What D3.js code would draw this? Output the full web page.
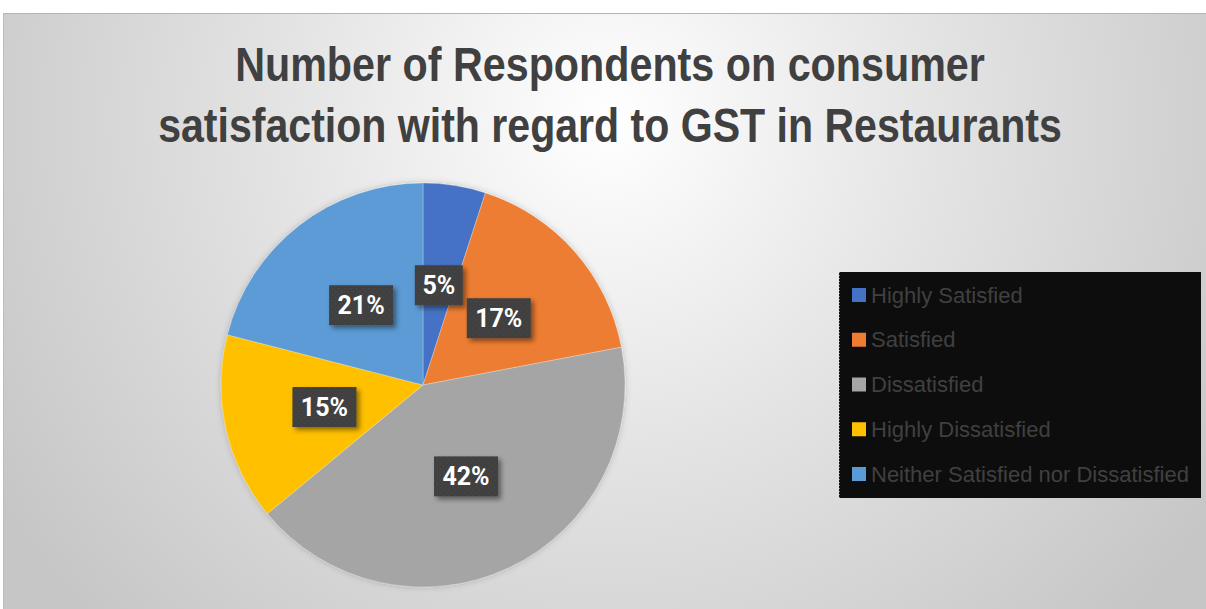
<!DOCTYPE html>
<html>
<head>
<meta charset="utf-8">
<script src="https://cdn.jsdelivr.net/npm/d3@7"></script>
<style>
  html, body { margin: 0; padding: 0; background: #fff; }
  svg { display: block; }
</style>
</head>
<body>
<svg id="svg1" width="1206" height="609"></svg>
<script>
var width = 1206;
var height = 609;

// data
var categories = ['Highly Satisfied', 'Satisfied', 'Dissatisfied', 'Highly Dissatisfied', 'Neither Satisfied nor Dissatisfied'];
var values = [5, 17, 42, 15, 21];
var colors = ['#4472C4', '#ED7D31', '#A5A5A5', '#FFC000', '#5B9BD5'];
var titleLines = ['Number of Respondents on consumer', 'satisfaction with regard to GST in Restaurants'];

var svg = d3.select('svg');
var defs = svg.append('defs');

// background gradient
var bg = defs.append('radialGradient')
    .attr('id', 'bgGrad')
    .attr('gradientUnits', 'userSpaceOnUse')
    .attr('cx', 610).attr('cy', 120).attr('r', 720);
bg.append('stop').attr('offset', '0%').attr('stop-color', '#ffffff');
bg.append('stop').attr('offset', '45%').attr('stop-color', '#e4e4e4');
bg.append('stop').attr('offset', '100%').attr('stop-color', '#c6c6c6');

// dotted texture for label boxes
var pat = defs.append('pattern')
    .attr('id', 'dots')
    .attr('width', 6).attr('height', 6)
    .attr('patternUnits', 'userSpaceOnUse');
pat.append('rect').attr('width', 6).attr('height', 6).attr('fill', '#404040');
pat.append('circle').attr('cx', 1.5).attr('cy', 1.5).attr('r', 0.8).attr('fill', '#4a4a4a');
pat.append('circle').attr('cx', 4.5).attr('cy', 4.5).attr('r', 0.8).attr('fill', '#4a4a4a');

var shadow = defs.append('filter').attr('id', 'shadow')
    .attr('x', '-20%').attr('y', '-20%').attr('width', '160%').attr('height', '160%');
shadow.append('feDropShadow')
    .attr('dx', 3).attr('dy', 3).attr('stdDeviation', 2.5)
    .attr('flood-color', '#000').attr('flood-opacity', 0.45);

var pieShadow = defs.append('filter').attr('id', 'pieShadow')
    .attr('x', '-10%').attr('y', '-10%').attr('width', '120%').attr('height', '120%');
pieShadow.append('feDropShadow')
    .attr('dx', 0).attr('dy', 0).attr('stdDeviation', 3)
    .attr('flood-color', '#000').attr('flood-opacity', 0.2);

// chart area
svg.append('rect')
    .attr('x', 3).attr('y', 13)
    .attr('width', width - 3).attr('height', height - 13)
    .attr('fill', 'url(#bgGrad)');
svg.append('line')
    .attr('x1', 3).attr('x2', width).attr('y1', 13.5).attr('y2', 13.5)
    .attr('stroke', '#b4b4b4').attr('stroke-width', 1);
svg.append('line')
    .attr('x1', 3.5).attr('x2', 3.5).attr('y1', 13).attr('y2', height)
    .attr('stroke', '#bdbdbd').attr('stroke-width', 1);

// title - condensed by a horizontal scale so it matches the narrow reference font
var titleWidths = [750, 904];
svg.append('g').selectAll('g')
    .data(titleLines)
    .enter()
    .append('g')
    .each(function(d, i) {
        var g = d3.select(this);
        var t = g.append('text')
            .attr('x', 0)
            .attr('y', 0)
            .attr('text-anchor', 'middle')
            .attr('font-family', 'Liberation Sans Narrow, Arial Narrow, sans-serif')
            .attr('font-weight', 'bold')
            .attr('font-size', 48)
            .attr('fill', '#404040')
            .text(d);
        var natural = t.node().getComputedTextLength();
        var k = Math.min(1, titleWidths[i] / natural);
        g.attr('transform', 'translate(610,' + (81 + i * 61) + ') scale(' + k + ',1)');
    });

// pie
var cx = 423, cy = 385, radius = 202;

var pie = d3.pie().sort(null).value(function(d) { return d; });
var arc = d3.arc().innerRadius(0).outerRadius(radius);
var labelArc = d3.arc().innerRadius(radius * 0.5).outerRadius(radius * 0.5);

var pieG = svg.append('g')
    .attr('transform', 'translate(' + cx + ',' + cy + ')');

pieG.append('g')
    .attr('filter', 'url(#pieShadow)')
    .selectAll('path')
    .data(pie(values))
    .enter()
    .append('path')
    .attr('d', arc)
    .attr('fill', function(d, i) { return colors[i]; })
    .attr('stroke', '#ffffff')
    .attr('stroke-opacity', 0.35)
    .attr('stroke-width', 0.75);

var totals = d3.sum(values);
var labels = pieG.selectAll('.label')
    .data(pie(values))
    .enter()
    .append('g')
    .attr('class', 'label')
    .attr('transform', function(d) {
        var c = labelArc.centroid(d);
        return 'translate(' + c[0] + ',' + c[1] + ')';
    });

labels.append('rect')
    .attr('x', function(d) { return d.data < 10 ? -24 : -32; })
    .attr('y', -20)
    .attr('width', function(d) { return d.data < 10 ? 48 : 64; })
    .attr('height', 40)
    .attr('fill', 'url(#dots)')
    .attr('filter', 'url(#shadow)');

labels.append('text')
    .attr('text-anchor', 'middle')
    .attr('dy', '0.36em')
    .attr('font-family', 'Roboto, sans-serif')
    .attr('font-weight', 'bold')
    .attr('font-size', 25)
    .attr('fill', '#ffffff')
    .text(function(d) { return Math.round(d.data / totals * 100) + '%'; });

// legend
var legend = svg.append('g');
legend.append('rect')
    .attr('x', 839).attr('y', 272)
    .attr('width', 362).attr('height', 226)
    .attr('fill', '#0d0d0d');
legend.append('line')
    .attr('x1', 839.5).attr('x2', 839.5).attr('y1', 272).attr('y2', 498)
    .attr('stroke', '#888').attr('stroke-dasharray', '1,2');

var rowY = d3.scalePoint()
    .domain(categories)
    .range([295, 474]);

var items = legend.selectAll('.item')
    .data(categories)
    .enter()
    .append('g')
    .attr('class', 'item')
    .attr('transform', function(d) { return 'translate(0,' + rowY(d) + ')'; });

items.append('rect')
    .attr('x', 852).attr('y', -7)
    .attr('width', 14).attr('height', 14)
    .attr('fill', function(d, i) { return colors[i]; });

items.append('text')
    .attr('x', 871)
    .attr('dy', '0.35em')
    .attr('font-family', 'Liberation Sans Narrow, Arial Narrow, sans-serif')
    .attr('font-size', 22)
    .attr('fill', '#404040')
    .text(function(d) { return d; });
</script>
</body>
</html>
